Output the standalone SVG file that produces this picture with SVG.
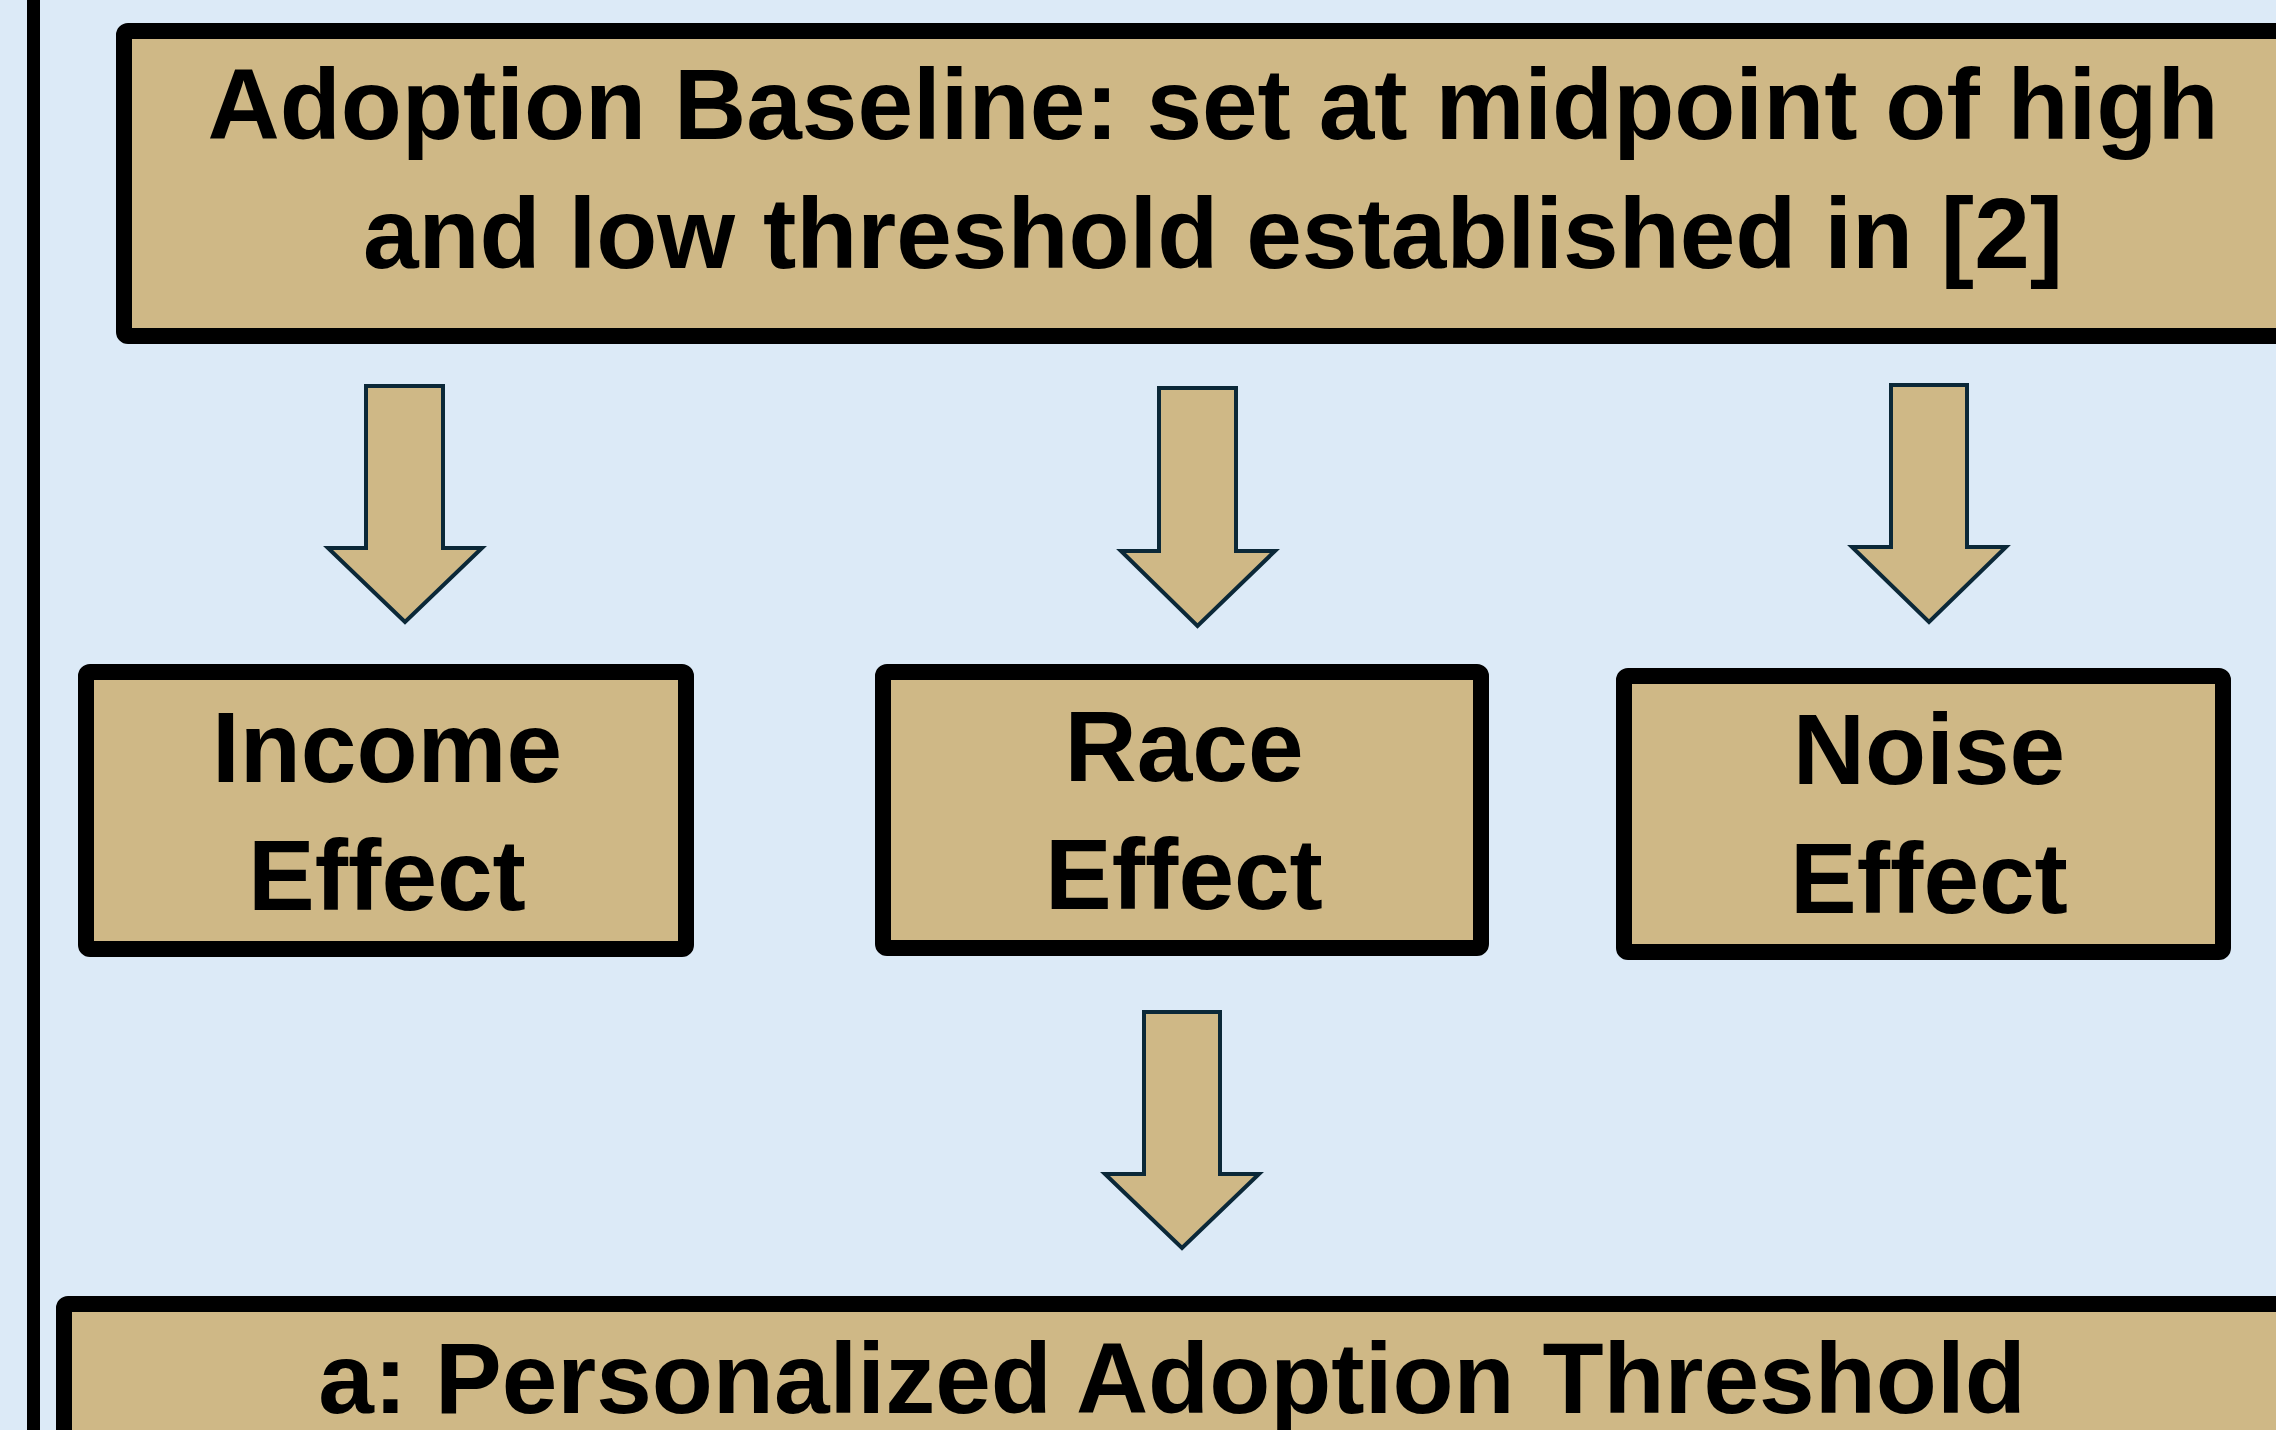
<svg xmlns="http://www.w3.org/2000/svg" width="2276" height="1430" viewBox="0 0 2276 1430">
<style>
.box{fill:#cfb886;stroke:#000;stroke-width:16;}
.arrow{fill:#cfb886;stroke:#0b2838;stroke-width:4;stroke-linejoin:miter;}
.t{font-family:"Liberation Sans",Arial,sans-serif;font-weight:bold;font-size:100px;fill:#000;text-anchor:middle;}
</style>
<rect x="0" y="0" width="2276" height="1430" fill="#dceaf7"/>
<rect x="27" y="0" width="13" height="1430" fill="#000"/>
<g id="baseline">
<rect class="box" x="124" y="31" width="2200" height="305" rx="4"/>
<text class="t" x="1213" y="139">Adoption Baseline: set at midpoint of high</text>
<text class="t" x="1213" y="268">and low threshold established in [2]</text>
</g>
<g id="income">
<rect class="box" x="86" y="672" width="600" height="277" rx="4"/>
<text class="t" x="387" y="782">Income</text>
<text class="t" x="387" y="910">Effect</text>
</g>
<g id="race">
<rect class="box" x="883" y="672" width="598" height="276" rx="4"/>
<text class="t" x="1184" y="781">Race</text>
<text class="t" x="1184" y="909">Effect</text>
</g>
<g id="noise">
<rect class="box" x="1624" y="676" width="599" height="276" rx="4"/>
<text class="t" x="1929" y="784">Noise</text>
<text class="t" x="1929" y="913">Effect</text>
</g>
<g id="threshold">
<rect class="box" x="64" y="1304" width="2260" height="200" rx="4"/>
<text class="t" x="1172" y="1413">a: Personalized Adoption Threshold</text>
</g>
<g id="connectors">
<polygon class="arrow" points="366,386 443,386 443,548 482,548 405,622 328,548 366,548"/>
<polygon class="arrow" points="1159,388 1236,388 1236,551 1275,551 1197.5,626 1121,551 1159,551"/>
<polygon class="arrow" points="1891,385 1967,385 1967,547 2006,547 1929,622 1852,547 1891,547"/>
<polygon class="arrow" points="1144,1012 1220,1012 1220,1174 1259,1174 1182,1248 1105,1174 1144,1174"/>
</g>
</svg>
